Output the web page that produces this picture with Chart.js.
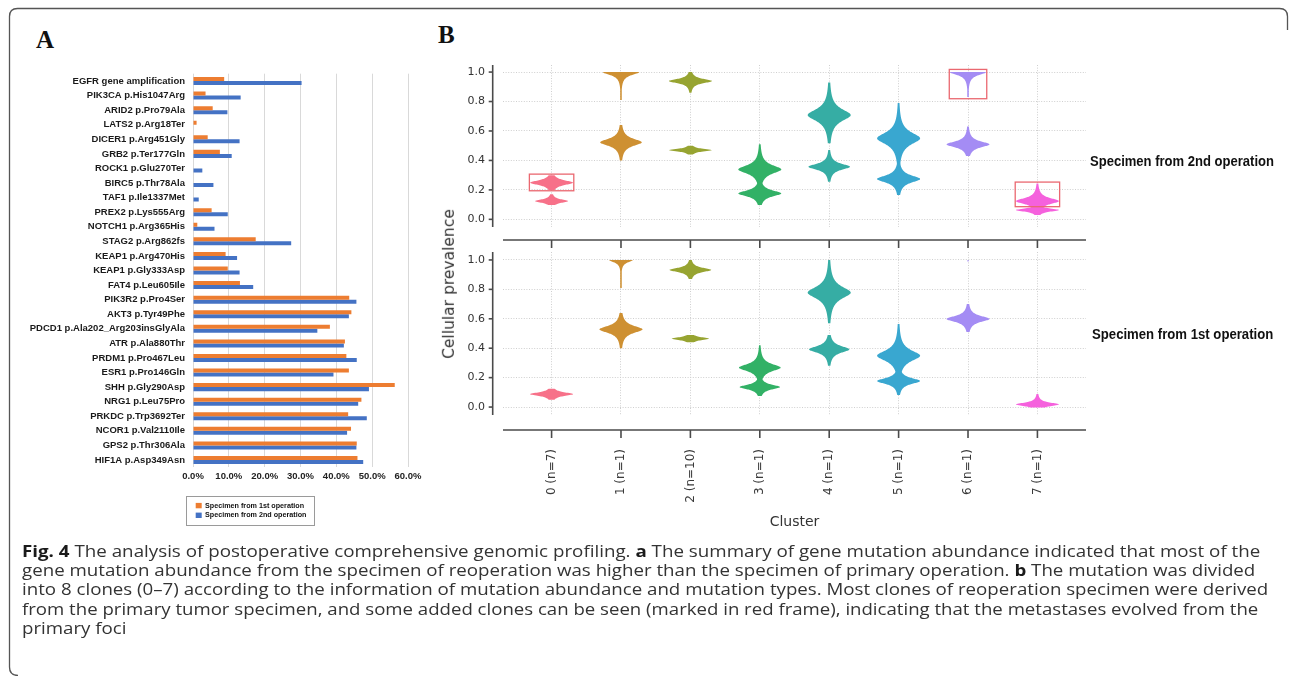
<!DOCTYPE html>
<html><head><meta charset="utf-8">
<script src="https://cdn.jsdelivr.net/npm/chart.js@4.4.1/dist/chart.umd.min.js"></script>
<style>
html,body{margin:0;padding:0;background:#fff;}
#page{position:relative;width:1292px;height:676px;overflow:hidden;background:#fff;}
canvas{position:absolute;}
.t{position:absolute;white-space:nowrap;}
#caption{position:absolute;left:21.7px;top:540.8px;font-family:'Open Sans',sans-serif;font-size:16.5px;line-height:19.33px;color:#333;}
#caption div{white-space:nowrap;width:max-content;transform-origin:0 0;}
#caption b{color:#1a1a1a;}
</style></head><body><div id="page">
<svg width="1292" height="676" style="position:absolute;left:0;top:0">
<path d="M1287.5 30 V16.5 Q1287.5 8.5 1279.5 8.5 H17.5 Q9.5 8.5 9.5 16.5 V667 Q9.5 675.5 18 675.5" fill="none" stroke="#555" stroke-width="1.3"/>
</svg>
<div class="t" style="left:36px;top:27px;font:bold 25px 'Liberation Serif',serif;line-height:25px;color:#111">A</div>
<div class="t" style="left:438px;top:22px;font:bold 25px 'Liberation Serif',serif;line-height:25px;color:#111">B</div>
<canvas id="cA" width="430" height="475" style="left:10px;top:60px"></canvas>
<canvas id="cTop" width="680" height="200" style="left:420px;top:50px"></canvas>
<canvas id="cBot" width="680" height="300" style="left:420px;top:240px"></canvas>
<div class="t fit" id="lab2" data-w="184" style="left:1090px;top:152.9px;font:bold 14px 'Liberation Sans',Arial,sans-serif;line-height:16px;color:#111;transform-origin:0 0">Specimen from 2nd operation</div>
<div class="t fit" id="lab1" data-w="181.3" style="left:1091.7px;top:326.2px;font:bold 14px 'Liberation Sans',Arial,sans-serif;line-height:16px;color:#111;transform-origin:0 0">Specimen from 1st operation</div>
<div class="t" id="ytitle" style="font:15.5px 'DejaVu Sans',sans-serif;line-height:18px;color:#333">Cellular prevalence</div>
<div id="caption">
<div><b>Fig. 4</b> The analysis of postoperative comprehensive genomic profiling. <b>a</b> The summary of gene mutation abundance indicated that most of the</div>
<div>gene mutation abundance from the specimen of reoperation was higher than the specimen of primary operation. <b>b</b> The mutation was divided</div>
<div>into 8 clones (0–7) according to the information of mutation abundance and mutation types. Most clones of reoperation specimen were derived</div>
<div>from the primary tumor specimen, and some added clones can be seen (marked in red frame), indicating that the metastases evolved from the</div>
<div>primary foci</div>
</div>
</div>
<script>
// ---------- Panel A data ----------
const genes = ['EGFR gene amplification','PIK3CA p.His1047Arg','ARID2 p.Pro79Ala','LATS2 p.Arg18Ter','DICER1 p.Arg451Gly','GRB2 p.Ter177Gln','ROCK1 p.Glu270Ter','BIRC5 p.Thr78Ala','TAF1 p.Ile1337Met','PREX2 p.Lys555Arg','NOTCH1 p.Arg365His','STAG2 p.Arg862fs','KEAP1 p.Arg470His','KEAP1 p.Gly333Asp','FAT4 p.Leu605Ile','PIK3R2 p.Pro4Ser','AKT3 p.Tyr49Phe','PDCD1 p.Ala202_Arg203insGlyAla','ATR p.Ala880Thr','PRDM1 p.Pro467Leu','ESR1 p.Pro146Gln','SHH p.Gly290Asp','NRG1 p.Leu75Pro','PRKDC p.Trp3692Ter','NCOR1 p.Val2110Ile','GPS2 p.Thr306Ala','HIF1A p.Asp349Asn'];
const firstOp  = [8.7,3.5,5.5,1.0,4.1,7.5,0,0,0,5.2,1.2,17.5,9.1,9.7,13.1,43.6,44.2,38.2,42.4,42.8,43.5,56.3,47.0,43.3,44.1,45.7,45.9];
const secondOp = [30.3,13.3,9.6,0,13.0,10.8,2.6,5.7,1.6,9.7,6.0,27.4,12.3,13.0,16.8,45.6,43.5,34.7,42.1,45.7,39.2,49.1,46.1,48.5,43.0,45.6,47.5];
const pctTicks = [0,10,20,30,40,50,60];

// ---------- Panel B data ----------
const clusterIds = [0,1,2,3,4,5,6,7];
const clusterLabels = ['0 (n=7)','1 (n=1)','2 (n=10)','3 (n=1)','4 (n=1)','5 (n=1)','6 (n=1)','7 (n=1)'];
const clusterColors = ['#f77189','#ce9032','#97a431','#32b166','#36ada4','#39a7d0','#a48cf4','#f561dd'];
const prevTicks = [0,0.2,0.4,0.6,0.8,1.0];
// specimen from 2nd operation (top): one entry per violin component
const topCluster   = [0,0, 1,1, 2,2, 3,3, 4,4, 5,5, 6,6, 7,7];
const topMode      = [0.249,0.124, 1.0,0.523, 0.939,0.470, 0.339,0.176, 0.708,0.357, 0.550,0.274, 1.0,0.509, 0.124,0.063];
const topHalfWidth = [0.31,0.24, 0.26,0.30, 0.31,0.31, 0.31,0.31, 0.31,0.30, 0.31,0.31, 0.26,0.31, 0.31,0.31];
const topSpread    = [0.02,0.014, 0.025,0.03, 0.018,0.011, 0.035,0.025, 0.05,0.025, 0.05,0.03, 0.025,0.025, 0.025,0.013];
const topLow       = [0.20,0.097, 0.81,0.40, 0.86,0.44, 0.22,0.097, 0.516,0.255, 0.33,0.165, 0.83,0.43, 0.085,0.03];
const topHigh      = [0.30,0.17, 1.0,0.64, 1.0,0.50, 0.51,0.25, 0.93,0.47, 0.79,0.45, 1.0,0.63, 0.244,0.09];
// specimen from 1st operation (bottom)
const botCluster   = [0, 1,1, 2,2, 3,3, 4,4, 5,5, 6,6, 7];
const botMode      = [0.088, 1.0,0.528, 0.932,0.465, 0.268,0.136, 0.778,0.392, 0.349,0.177, 1.0,0.599, 0.018];
const botHalfWidth = [0.31, 0.17,0.31, 0.30,0.27, 0.30,0.29, 0.31,0.29, 0.31,0.31, 0.008,0.31, 0.31];
const botSpread    = [0.015, 0.02,0.03, 0.018,0.012, 0.03,0.02, 0.05,0.028, 0.045,0.025, 0.004,0.025, 0.015];
const botLow       = [0.05, 0.81,0.40, 0.87,0.44, 0.17,0.075, 0.57,0.28, 0.22,0.082, 0.99,0.51, -0.003];
const botHigh      = [0.125, 1.0,0.64, 1.0,0.49, 0.42,0.21, 1.0,0.49, 0.565,0.26, 1.0,0.70, 0.088];
// red frames (new clones, top panel)
const boxCluster   = [0, 6, 7];
const boxHalfWidth = [0.32, 0.27, 0.32];
const boxLow       = [0.194, 0.819, 0.086];
const boxHigh      = [0.307, 1.018, 0.253];

Chart.defaults.font.family = "'Liberation Sans', Arial, sans-serif";
Chart.defaults.color = '#222';

// ---------- Panel A ----------
const legendBoxPlugin = {
  id: 'legendBox',
  afterDraw(chart) {
    const {ctx, chartArea: a} = chart;
    const bx = a.left - 7, by = a.bottom + 29, bw = 128, bh = 29;
    ctx.save();
    ctx.strokeStyle = '#9a9a9a'; ctx.lineWidth = 1;
    ctx.strokeRect(Math.round(bx) + 0.5, Math.round(by) + 0.5, bw, bh);
    ctx.font = "bold 7.2px 'Liberation Sans', Arial, sans-serif";
    ctx.textBaseline = 'middle';
    chart.data.datasets.forEach((ds, i) => {
      const cy = by + 9.3 + i * 9.7;
      ctx.fillStyle = ds.backgroundColor;
      ctx.fillRect(bx + 9.7, cy - 2.7, 6, 5.4);
      ctx.fillStyle = '#111';
      ctx.fillText(ds.label, bx + 19, cy);
    });
    ctx.restore();
  }
};

new Chart(document.getElementById('cA'), {
  type: 'bar',
  data: {
    labels: genes,
    datasets: [
      {label: 'Specimen from 1st operation', data: firstOp, backgroundColor: '#ED7D31'},
      {label: 'Specimen from 2nd operation', data: secondOp, backgroundColor: '#4472C4'}
    ]
  },
  options: {
    indexAxis: 'y', responsive: false, animation: false, events: [],
    categoryPercentage: 0.55, barPercentage: 1.0,
    layout: {padding: {top: 13.4, right: 32, bottom: 47.7, left: 0}, autoPadding: false},
    plugins: {legend: {display: false}, tooltip: {enabled: false}},
    scales: {
      x: {
        min: 0, max: 60,
        afterBuildTicks: s => { s.ticks = pctTicks.map(v => ({value: v})); },
        ticks: {padding: 3, font: {size: 9.5, weight: 'bold'}, color: '#222', callback: v => v.toFixed(1) + '%'},
        grid: {color: '#d9d9d9', lineWidth: 1, drawTicks: false},
        border: {display: false},
        afterFit: s => { s.height = 20; }
      },
      y: {
        ticks: {padding: 8, font: {size: 9.5, weight: 'bold'}, color: '#1a1a1a', autoSkip: false},
        grid: {display: false, drawTicks: false},
        border: {display: false},
        afterFit: s => { s.width = 183; }
      }
    }
  },
  plugins: [legendBoxPlugin]
});

// ---------- Panel B ----------
const violinPlugin = {
  id: 'violins',
  afterDatasetsDraw(chart, args, opts) {
    const {ctx, scales: {x, y}} = chart;
    const unit = x.getPixelForValue(1) - x.getPixelForValue(0);
    ctx.save();
    chart.data.datasets.forEach((ds, di) => {
      const meta = chart.getDatasetMeta(di);
      ctx.fillStyle = ds.backgroundColor;
      meta.data.forEach((el, i) => {
        const d = ds.data[i];
        const n = Math.max(2, Math.ceil((d.hi - d.lo) / 0.0015));
        const vals = [];
        for (let k = 0; k <= n; k++) vals.push(d.lo + (d.hi - d.lo) * k / n);
        const half = v => Math.max(Math.min(opts.needle, d.w), d.w / (1 + Math.pow((v - d.y) / d.s, 2)));
        ctx.beginPath();
        vals.forEach((v, k) => {
          const px = el.x - half(v) * unit, py = y.getPixelForValue(v);
          if (k) ctx.lineTo(px, py); else ctx.moveTo(px, py);
        });
        for (let k = vals.length - 1; k >= 0; k--) {
          const v = vals[k];
          ctx.lineTo(el.x + half(v) * unit, y.getPixelForValue(v));
        }
        ctx.closePath();
        ctx.fill();
      });
    });
    const b = opts.boxes;
    if (b) {
      ctx.strokeStyle = '#ea6870'; ctx.lineWidth = 1.3;
      b.cluster.forEach((c, i) => {
        const x0 = x.getPixelForValue(c - b.hw[i]), x1 = x.getPixelForValue(c + b.hw[i]);
        const y0 = y.getPixelForValue(b.hi[i]), y1 = y.getPixelForValue(b.lo[i]);
        ctx.strokeRect(x0, y0, x1 - x0, y1 - y0);
      });
    }
    ctx.restore();
  }
};

const spinePlugin = {
  id: 'spines',
  afterDraw(chart, args, opts) {
    const {ctx, chartArea: a, scales: {x, y}} = chart;
    ctx.save();
    ctx.strokeStyle = '#4a4a4a'; ctx.lineWidth = 1.6;
    const seg = (x0, y0, x1, y1) => { ctx.beginPath(); ctx.moveTo(x0, y0); ctx.lineTo(x1, y1); ctx.stroke(); };
    const sx = a.left - 10.3;
    seg(sx, a.top, sx, a.bottom);
    y.ticks.forEach(t => { const py = y.getPixelForValue(t.value); seg(sx - 4, py, sx, py); });
    const sy = a.bottom + opts.offset;
    seg(a.left, sy, a.right, sy);
    x.ticks.forEach(t => { const px = x.getPixelForValue(t.value); seg(px, sy, px, sy + 8); });
    ctx.restore();
  }
};

function violinDatasets(cl, mode, hw, sp, lo, hi) {
  return clusterIds.map(k => ({
    label: clusterLabels[k],
    backgroundColor: clusterColors[k],
    pointRadius: 0,
    data: cl.map((c, i) => c === k ? {x: k, y: mode[i], w: hw[i], s: sp[i], lo: lo[i], hi: hi[i]} : null).filter(Boolean)
  }));
}

function violinChart(id, datasets, yMin, yMax, bottom, padTop, xHeight, spineOffset, boxes) {
  const border = {display: false, dash: [1, 1.6]};
  return new Chart(document.getElementById(id), {
    type: 'scatter',
    data: {datasets},
    options: {
      responsive: false, animation: false, events: [],
      layout: {padding: {top: padTop, right: 14, bottom: 0, left: 0}, autoPadding: false},
      plugins: {legend: {display: false}, tooltip: {enabled: false},
        violins: {needle: 0.011, boxes}, spines: {offset: spineOffset}},
      scales: {
        x: {
          type: 'linear', min: -0.7, max: 7.7,
          afterBuildTicks: s => { s.ticks = clusterIds.map(v => ({value: v})); },
          grid: {color: '#cfcfcf', lineWidth: 1, drawTicks: bottom, tickLength: 34, tickColor: 'rgba(0,0,0,0)'},
          border,
          ticks: {display: bottom, autoSkip: false, minRotation: 90, maxRotation: 90, padding: 0,
            font: {family: "'DejaVu Sans', sans-serif", size: 12}, color: '#3a3a3a',
            callback: v => clusterLabels[v]},
          title: {display: bottom, text: 'Cluster', color: '#333',
            font: {family: "'DejaVu Sans', sans-serif", size: 14}, padding: {top: 0, bottom: 9.6}},
          afterFit: s => { s.height = xHeight; }
        },
        y: {
          type: 'linear', min: yMin, max: yMax,
          afterBuildTicks: s => { s.ticks = prevTicks.map(v => ({value: v})); },
          grid: {color: '#cfcfcf', lineWidth: 1, drawTicks: true, tickLength: 18, tickColor: 'rgba(0,0,0,0)'},
          border,
          ticks: {padding: 0, font: {family: "'DejaVu Sans', sans-serif", size: 11}, color: '#333',
            callback: v => v.toFixed(1)},
          afterFit: s => { s.width = 83; }
        }
      }
    },
    plugins: [violinPlugin, spinePlugin]
  });
}

violinChart('cTop', violinDatasets(topCluster, topMode, topHalfWidth, topSpread, topLow, topHigh),
  -0.052, 1.048, false, 15, 23, 13,
  {cluster: boxCluster, hw: boxHalfWidth, lo: boxLow, hi: boxHigh});
violinChart('cBot', violinDatasets(botCluster, botMode, botHalfWidth, botSpread, botLow, botHigh),
  -0.054, 1.054, true, 12, 125, 15, null);

// ---------- text fitting ----------
document.querySelectorAll('.fit').forEach(el => {
  const w = el.getBoundingClientRect().width;
  el.style.transform = 'scaleX(' + (parseFloat(el.dataset.w) / w) + ')';
});
const yt = document.getElementById('ytitle');
const r = yt.getBoundingClientRect();
yt.style.left = (449 - r.width / 2) + 'px';
yt.style.top = (283.5 - r.height / 2) + 'px';
yt.style.transform = 'rotate(-90deg)';
const capTargets = [1238.3, 1233.3, 1246.3, 1236.3];
const lines = document.querySelectorAll('#caption div');
let sum = 0;
capTargets.forEach((t, i) => {
  const w = lines[i].getBoundingClientRect().width;
  const k = t / w; sum += k;
  lines[i].style.transform = 'scaleX(' + k + ')';
});
lines[4].style.transform = 'scaleX(' + (sum / capTargets.length) + ')';
</script>
</body></html>
